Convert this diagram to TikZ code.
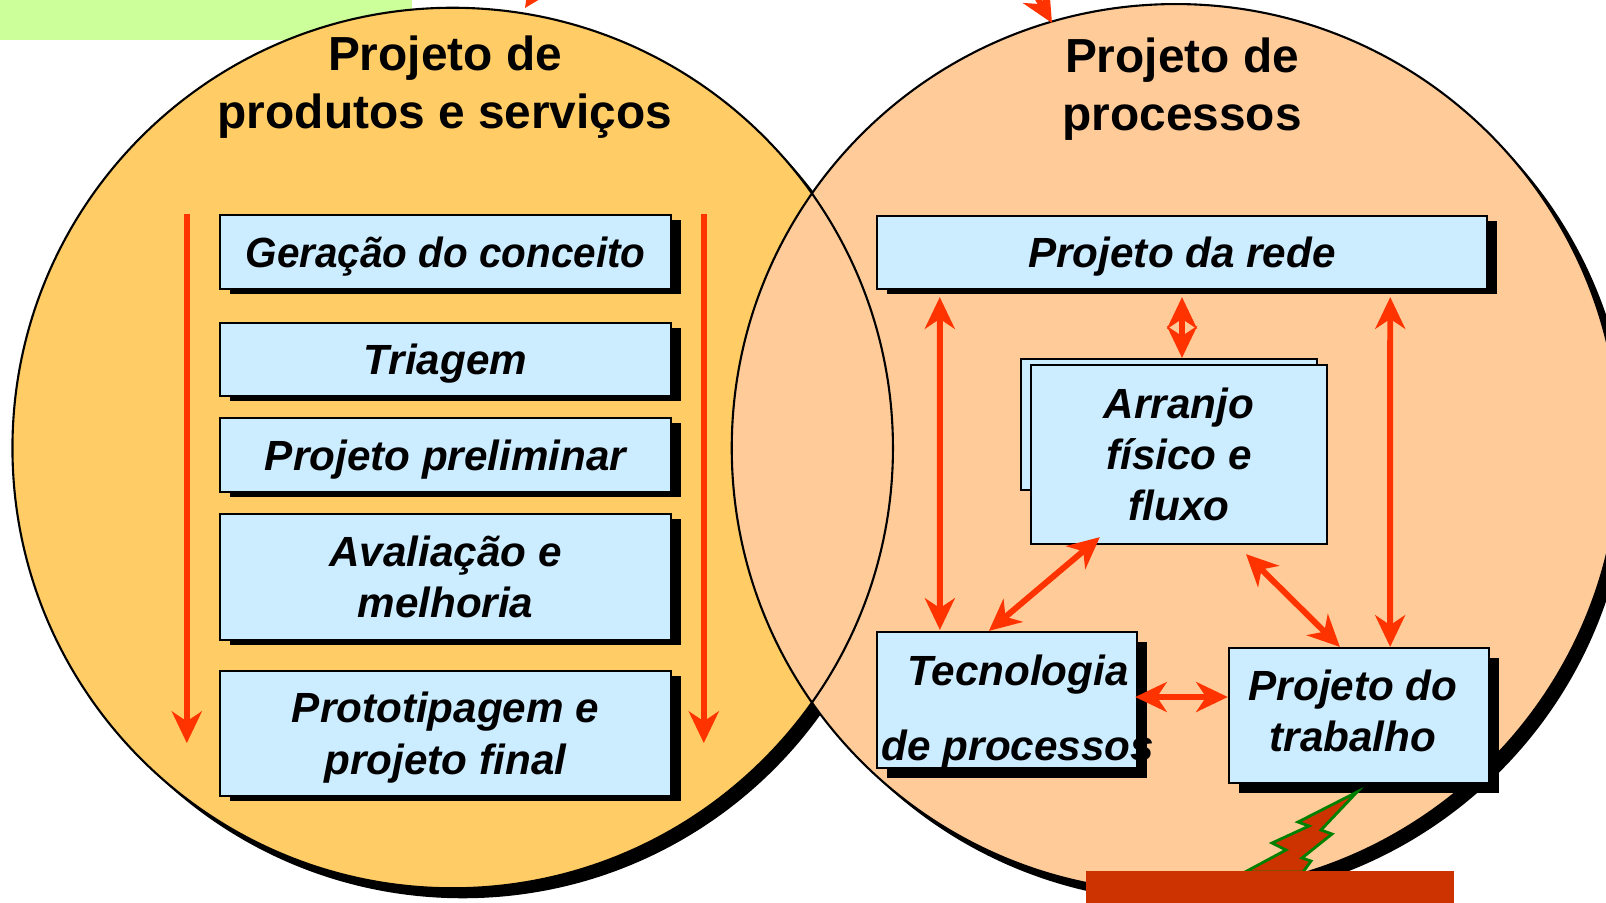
\documentclass[tikz,border=0pt]{standalone}
\usepackage{fontspec}
\setmainfont{Liberation Sans}
\usetikzlibrary{calc,shadows,arrows.meta}

\definecolor{leftdisc}{HTML}{FFCC66}
\definecolor{rightdisc}{HTML}{FFCC99}
\definecolor{stageblue}{HTML}{CCECFF}
\definecolor{linkred}{HTML}{FF3300}
\definecolor{tagl}{HTML}{CCFF99}
\definecolor{boltred}{HTML}{CC3300}
\definecolor{boltgreen}{HTML}{008000}

\newcommand{\stagefont}{\fontsize{12}{14.6}\selectfont\bfseries\itshape}
\newcommand{\discfont}{\fontsize{13.6}{16.6}\selectfont\bfseries}

\tikzset{
  stage/.style={draw=black, line width=0.6pt, fill=stageblue, inner sep=0pt,
    align=center, font=\stagefont,
    drop shadow={shadow xshift=0.1cm, shadow yshift=#1, fill=black, opacity=1}},
  stage/.default=-0.05cm,
  oneline/.style={text height=8.6pt, text depth=0pt},
  plate/.style={draw=black, line width=0.6pt, fill=stageblue, inner sep=0pt,
    align=center, font=\stagefont},
  disctitle/.style={align=center, font=\discfont, inner sep=0pt},
  link/.style={draw=linkred, line width=1.7pt, <->},
  flow/.style={draw=linkred, line width=1.7pt, ->},
  >={Stealth[length=9pt, width=8.5pt, inset=2.8pt]}
}

\begin{document}
\begin{tikzpicture}[x=0.01cm, y=-0.01cm]
	\useasboundingbox (0,0) rectangle (1606,902);
	% discs
	\coordinate (lc) at (452.7,448);
	\coordinate (rc) at (1175.7,448);
	\fill[tagl] (0,0) rectangle (412,40);
	\fill[black] ($(lc)+(10,10)$) circle (4.40cm);
	\fill[leftdisc] (lc) circle (4.40cm);
	\fill[black] ($(rc)+(10,10)$) circle (4.437cm);
	\filldraw[fill=rightdisc, draw=black, line width=0.6pt] (rc) circle (4.437cm);
	\draw[black, line width=0.6pt] (lc) circle (4.40cm);
	\draw[flow] (570,-60) -- (525,8);
	\draw[flow] (1012,-46) -- (1052,23);

	\node[disctitle] (ptitle) at (445,87) {Projeto de\\produtos e serviços};
	\node[disctitle] (rtitle) at (1182,89) {Projeto de\\processos};

	% product design stages
	\node[stage, oneline, minimum width=4.51cm, minimum height=0.74cm] (ger) at (445.5,252) {\scalebox{0.958}[1]{Geração do conceito}};
	\node[stage, oneline, minimum width=4.51cm, minimum height=0.73cm] (tri) at (445.5,359.5) {Triagem};
	\node[stage, oneline, minimum width=4.51cm, minimum height=0.74cm] (pre) at (445.5,455) {Projeto preliminar};
	\node[stage, minimum width=4.51cm, minimum height=1.26cm] (ava) at (445.5,577) {Avaliação e\\melhoria};
	\node[stage, minimum width=4.51cm, minimum height=1.25cm] (proto) at (445.5,733.5) {\rule{0pt}{11pt}Prototipagem e\\projeto final};
	\draw[flow] ($(ger.north west)+(-32,0)$) -- ($(proto.south west)+(-32,-54)$);
	\draw[flow] ($(ger.north east)+(31.6,0)$) -- ($(proto.south east)+(31.6,-54)$);

	% process design
	\node[stage, oneline, minimum width=6.10cm, minimum height=0.73cm] (rede) at (1182,252.5) {Projeto da rede};
	\node[plate, minimum width=2.96cm, minimum height=1.31cm] (back) at (1169,424.5) {};
	\node[plate, minimum width=2.96cm, minimum height=1.79cm] (arr) at (1179,454.5) {Arranjo\\físico e\\fluxo};
	\node[stage=-0.1cm, minimum width=2.60cm, minimum height=1.36cm] (tec) at (1007,700) {};
	\node[stage=-0.1cm, minimum width=2.60cm, minimum height=1.35cm] (trab) at (1359,715.5) {Projeto do\hspace*{3.4pt}\\trabalho\hspace*{3.4pt}\rule[-2.9pt]{0pt}{2.9pt}};
	\node[align=center, font=\stagefont, inner sep=0pt] (tectext) at (1018,712) {Tecnologia\\[6.6pt]de processos};

	\draw[link] ($(rede.south west)+(64,7)$) -- ($(tec.north west)+(64,-1)$);
	\draw[link] ($(rede.south)+(0,7)$) -- (rede.south |- back.north);
	\draw[link] ($(rede.south east)+(-98,7)$) -- ($(trab.north east)+(-100,0)$);
	\draw[link] ($(tec.north west)+(113,0)$) -- ($(arr.south west)+(70,-8)$);
	\draw[link] ($(arr.south)+(67,9)$) -- ($(trab.north west)+(112,0)$);
	\draw[link] ($(tec.east)+(-3,-3)$) -- ($(tec.east -| trab.west)+(0,-3)$);

	% bolt to the red box
	\filldraw[fill=boltred, draw=boltgreen, line width=0.8pt] (1357,792) -- (1298,822) -- (1309,826)
	-- (1272,843) -- (1286,850) -- (1245,872) -- (1303,872) -- (1311,861) -- (1302,858)
	-- (1332,834) -- (1321,830) -- cycle;
	\node[fill=boltred, inner sep=0pt, minimum width=3.68cm, minimum height=0.5cm, anchor=north west] (alert) at (1085,870) {};
\end{tikzpicture}
\end{document}
